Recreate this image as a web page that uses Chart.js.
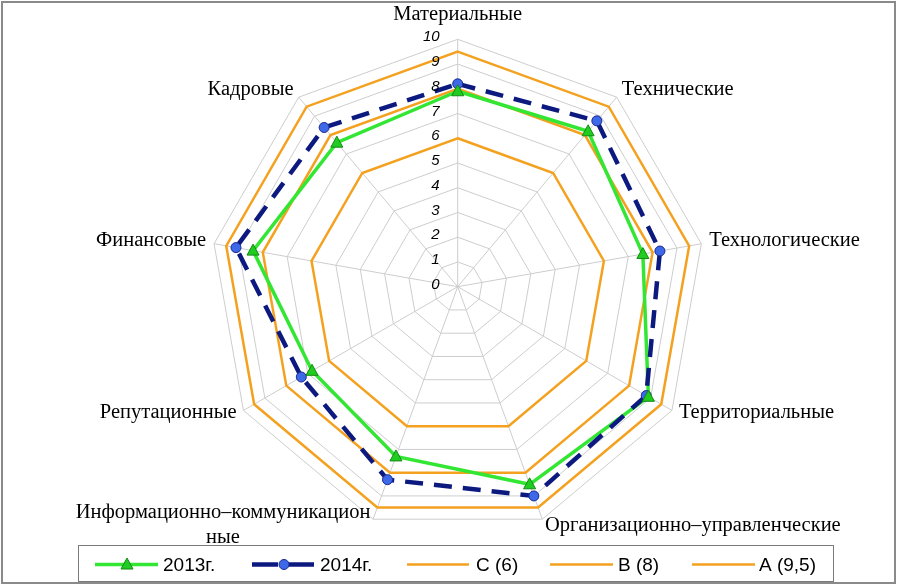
<!DOCTYPE html>
<html>
<head>
<meta charset="utf-8">
<script src="https://cdn.jsdelivr.net/npm/chart.js@4/dist/chart.umd.min.js"></script>
<style>
  html, body { margin: 0; padding: 0; background: #fff; }
  #wrap { position: relative; width: 897px; height: 585px; }
</style>
</head>
<body>
<div id="wrap"><canvas id="chart" width="897" height="585"></canvas></div>
<script>
// categories, clockwise from the top
const categories = [
  'Материальные',
  'Технические',
  'Технологические',
  'Территориальные',
  'Организационно–управленческие',
  ['Информационно–коммуникацион', 'ные'],
  'Репутационные',
  'Финансовые',
  'Кадровые'
];
const values2013 = [7.9, 8.2, 7.6, 8.9, 8.5, 7.3, 6.8, 8.4, 7.6];
const values2014 = [8.2, 8.75, 8.3, 8.8, 9.0, 8.3, 7.3, 9.1, 8.4];
const levelC = [6, 6, 6, 6, 6, 6, 6, 6, 6];
const levelB = [8, 8, 8, 8, 8, 8, 8, 8, 8];
const levelA = [9.5, 9.5, 9.5, 9.5, 9.5, 9.5, 9.5, 9.5, 9.5];
const tickLabels = ['0', '1', '2', '3', '4', '5', '6', '7', '8', '9', '10'];

const ORANGE = '#f4a11f';
const GREEN = '#33e633';
const NAVY = '#0c1a80';

// triangle marker for 2013, circle for 2014
function drawMarker(ctx, type, x, y) {
  ctx.save();
  ctx.setLineDash([]);
  if (type === 'triangle') {
    ctx.fillStyle = '#1fcc1f';
    ctx.strokeStyle = '#138a13';
    ctx.lineWidth = 1;
    ctx.beginPath();
    ctx.moveTo(x, y - 6.5);
    ctx.lineTo(x + 6, y + 4.5);
    ctx.lineTo(x - 6, y + 4.5);
    ctx.closePath();
    ctx.fill(); ctx.stroke();
  } else {
    ctx.fillStyle = '#3d68e8';
    ctx.strokeStyle = '#1a2a90';
    ctx.lineWidth = 1;
    ctx.beginPath();
    ctx.arc(x, y, 5, 0, Math.PI * 2);
    ctx.fill(); ctx.stroke();
  }
  ctx.restore();
}

// ticks + point labels, placed like the excel original
const labelsPlugin = {
  id: 'labelsPlugin',
  afterDraw(chart) {
    const ctx = chart.ctx;
    const s = chart.scales.r;
    ctx.save();
    ctx.fillStyle = '#000';
    // tick labels, left of the vertical axis
    ctx.font = 'italic 15px "Liberation Sans", Arial, sans-serif';
    ctx.textAlign = 'right';
    ctx.textBaseline = 'middle';
    tickLabels.forEach((t, i) => {
      const p = s.getPointPositionForValue(0, Number(t));
      ctx.fillText(t, s.xCenter - 18, p.y - 2);
    });
    // category labels
    ctx.font = '20.5px "Liberation Serif", "Times New Roman", serif';
    const lineH = 25;
    categories.forEach((lab, i) => {
      const lines = Array.isArray(lab) ? lab : [lab];
      const angle = i * 360 / categories.length;
      const p = s.getPointPosition(i, s.drawingArea + 8);
      const w = Math.max(...lines.map(l => ctx.measureText(l).width));
      let left;
      if (angle === 0) left = p.x - w / 2;
      else if (angle < 180) left = p.x;
      else left = p.x - w;
      let cy = p.y - 1.5;
      if (angle === 0) cy = p.y - 17;
      const top = cy - (lines.length - 1) * lineH / 2;
      ctx.textAlign = 'center';
      lines.forEach((l, k) => ctx.fillText(l, left + w / 2, top + k * lineH));
    });
    ctx.restore();
  }
};

// legend box at the bottom + outer frame
const legendPlugin = {
  id: 'legendPlugin',
  afterDraw(chart) {
    const ctx = chart.ctx;
    ctx.save();
    // outer frame
    ctx.strokeStyle = '#8a8a8a';
    ctx.lineWidth = 2;
    ctx.strokeRect(2, 2, 893, 581);
    // legend box
    ctx.lineWidth = 1;
    ctx.strokeStyle = '#7a7a7a';
    ctx.strokeRect(78.5, 545.5, 755, 36);
    const ly = 564.5;
    const items = [
      { x1: 95, x2: 158, text: '2013г.', color: GREEN, w: 3.5, dash: [], marker: 'triangle', tx: 163 },
      { x1: 252, x2: 315, text: '2014г.', color: NAVY, w: 4.5, dash: [26, 10], marker: 'circle', tx: 320 },
      { x1: 407, x2: 469, text: 'C (6)', color: ORANGE, w: 2.5, dash: [], tx: 476 },
      { x1: 550, x2: 613, text: 'B (8)', color: ORANGE, w: 2.5, dash: [], tx: 618 },
      { x1: 692, x2: 755, text: 'A (9,5)', color: ORANGE, w: 2.5, dash: [], tx: 759 }
    ];
    ctx.font = '19px "Liberation Sans", Arial, sans-serif';
    ctx.textBaseline = 'middle';
    ctx.textAlign = 'left';
    items.forEach(it => {
      ctx.strokeStyle = it.color;
      ctx.lineWidth = it.w;
      ctx.setLineDash(it.dash);
      ctx.beginPath();
      ctx.moveTo(it.x1, ly);
      ctx.lineTo(it.x2, ly);
      ctx.stroke();
      ctx.setLineDash([]);
      if (it.marker) drawMarker(ctx, it.marker, (it.x1 + it.x2) / 2 + 0.5, ly);
      ctx.fillStyle = '#000';
      ctx.fillText(it.text, it.tx, ly + 1);
    });
    ctx.restore();
  }
};

// custom markers on the series
const markerPlugin = {
  id: 'markerPlugin',
  afterDatasetsDraw(chart) {
    const ctx = chart.ctx;
    [1, 0].forEach(di => {
      const meta = chart.getDatasetMeta(di);
      meta.data.forEach(pt => drawMarker(ctx, di === 0 ? 'triangle' : 'circle', pt.x, pt.y));
    });
  }
};

const orangeLine = (label, data) => ({
  label, data,
  borderColor: ORANGE, borderWidth: 2.5, fill: false,
  pointRadius: 0, pointHoverRadius: 0
});

new Chart(document.getElementById('chart'), {
  type: 'radar',
  data: {
    labels: categories,
    datasets: [
      { label: '2013г.', data: values2013, borderColor: GREEN, borderWidth: 3.5,
        fill: false, pointRadius: 0, order: 1 },
      { label: '2014г.', data: values2014, borderColor: NAVY, borderWidth: 4.5,
        borderDash: [18, 11], fill: false, pointRadius: 0, order: 0 },
      Object.assign(orangeLine('C (6)', levelC), { order: 2 }),
      Object.assign(orangeLine('B (8)', levelB), { order: 2 }),
      Object.assign(orangeLine('A (9,5)', levelA), { order: 2 })
    ]
  },
  options: {
    responsive: false,
    animation: false,
    devicePixelRatio: 1,
    elements: { line: { tension: 0, borderJoinStyle: 'miter' } },
    plugins: { legend: { display: false }, tooltip: { enabled: false } },
    scales: {
      r: {
        min: 0, max: 10,
        ticks: { stepSize: 1, display: false },
        grid: { color: '#cdcdcd', lineWidth: 1 },
        angleLines: { color: '#cdcdcd', lineWidth: 1 },
        pointLabels: { display: false },
        afterFit(s) {
          s.xCenter = 457.7;
          s.yCenter = 286.7;
          s.drawingArea = 247.4;
        }
      }
    }
  },
  plugins: [markerPlugin, labelsPlugin, legendPlugin]
});
</script>
</body>
</html>
